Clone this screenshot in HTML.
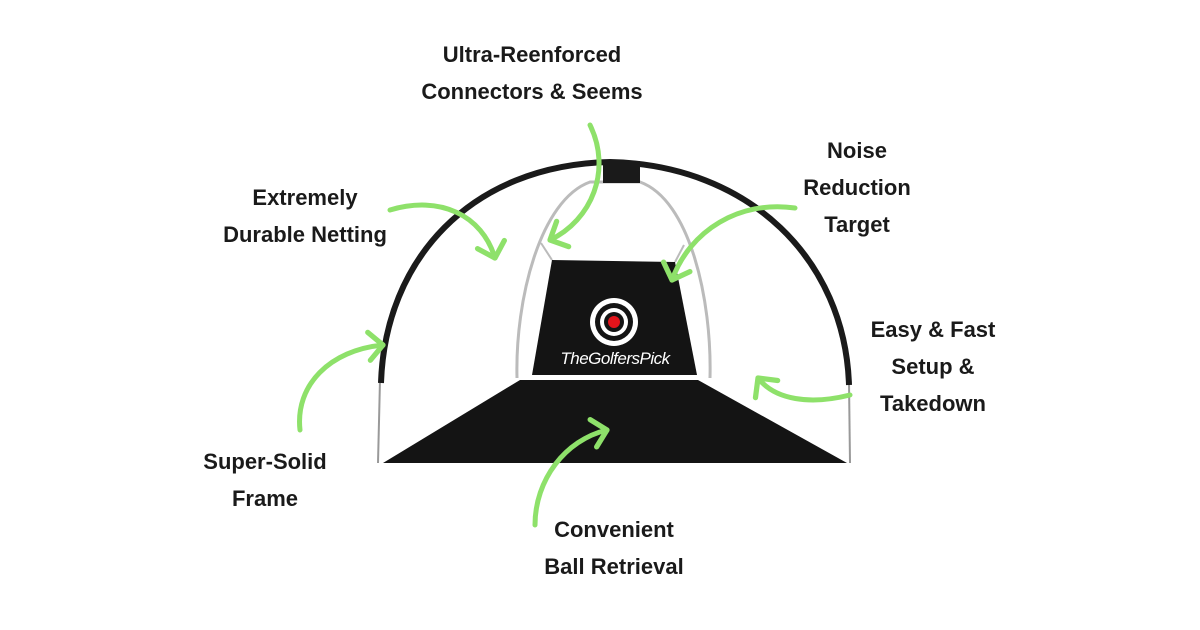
<!DOCTYPE html>
<html><head><style>
html,body{margin:0;padding:0;background:#fff;}
.l{position:absolute;font-family:"Liberation Sans",sans-serif;font-weight:bold;font-size:22px;color:#1a1a1a;text-align:center;line-height:37px;white-space:nowrap;transform:translateX(-50%);}
</style></head><body>
<div style="position:relative;width:1200px;height:630px;overflow:hidden;">
<svg width="1200" height="630" style="position:absolute;left:0;top:0">
<defs>
<marker id="h" viewBox="0 0 20 20" refX="10" refY="10" markerWidth="7" markerHeight="7" orient="auto" markerUnits="strokeWidth">
<path d="M2,2 L10,10 L2,18" fill="none" stroke="#8ee16a" stroke-width="3" stroke-linecap="round" stroke-linejoin="round"/>
</marker>
</defs>
<polygon points="520,380 698,380 847,463 383,463" fill="#141414"/>
<polygon points="552,260 675,262 697,375 532,375" fill="#141414"/>
<path d="M517,378 C515,300 540,200 590,182 L640,182 C690,200 712,300 710,378" fill="none" stroke="#bbb" stroke-width="3"/>
<line x1="552" y1="260" x2="541" y2="243" stroke="#bbb" stroke-width="2"/>
<line x1="675" y1="262" x2="684" y2="245" stroke="#bbb" stroke-width="2"/>
<line x1="380" y1="380" x2="378" y2="463" stroke="#999" stroke-width="2"/>
<line x1="849" y1="382" x2="850" y2="463" stroke="#999" stroke-width="2"/>
<path d="M381,383 C385,260 470,165 610,162 C750,165 845,260 849,385" fill="none" stroke="#1a1a1a" stroke-width="6"/>
<rect x="603" y="161" width="37" height="22" fill="#1a1a1a"/>
<circle cx="614" cy="322" r="24" fill="#fff"/>
<circle cx="614" cy="322" r="19" fill="#141414"/>
<circle cx="614" cy="322" r="14" fill="#fff"/>
<circle cx="614" cy="322" r="10" fill="#141414"/>
<circle cx="614" cy="322" r="6" fill="#e3141b"/>
<text x="615" y="364" text-anchor="middle" font-family="Liberation Sans,sans-serif" font-style="italic" font-size="17" fill="#fff" letter-spacing="-0.5">TheGolfersPick</text>
<g fill="none" stroke="#8ee16a" stroke-width="5" stroke-linecap="round" marker-end="url(#h)">
<path d="M590,125 C612,170 592,220 550,240"/>
<path d="M390,210 C440,195 482,215 495,258"/>
<path d="M795,208 C740,200 690,230 672,280"/>
<path d="M300,430 C295,385 330,350 383,345"/>
<path d="M850,395 C810,405 775,400 758,378"/>
<path d="M535,525 C535,480 565,440 607,430"/>
</g>
</svg>
<div class="l" style="left:532px;top:36px">Ultra-Reenforced<br>Connectors &amp; Seems</div>
<div class="l" style="left:305px;top:179px">Extremely<br>Durable Netting</div>
<div class="l" style="left:857px;top:132px">Noise<br>Reduction<br>Target</div>
<div class="l" style="left:933px;top:311px">Easy &amp; Fast<br>Setup &amp;<br>Takedown</div>
<div class="l" style="left:265px;top:443px">Super-Solid<br>Frame</div>
<div class="l" style="left:614px;top:511px">Convenient<br>Ball Retrieval</div>
</div>
</body></html>
